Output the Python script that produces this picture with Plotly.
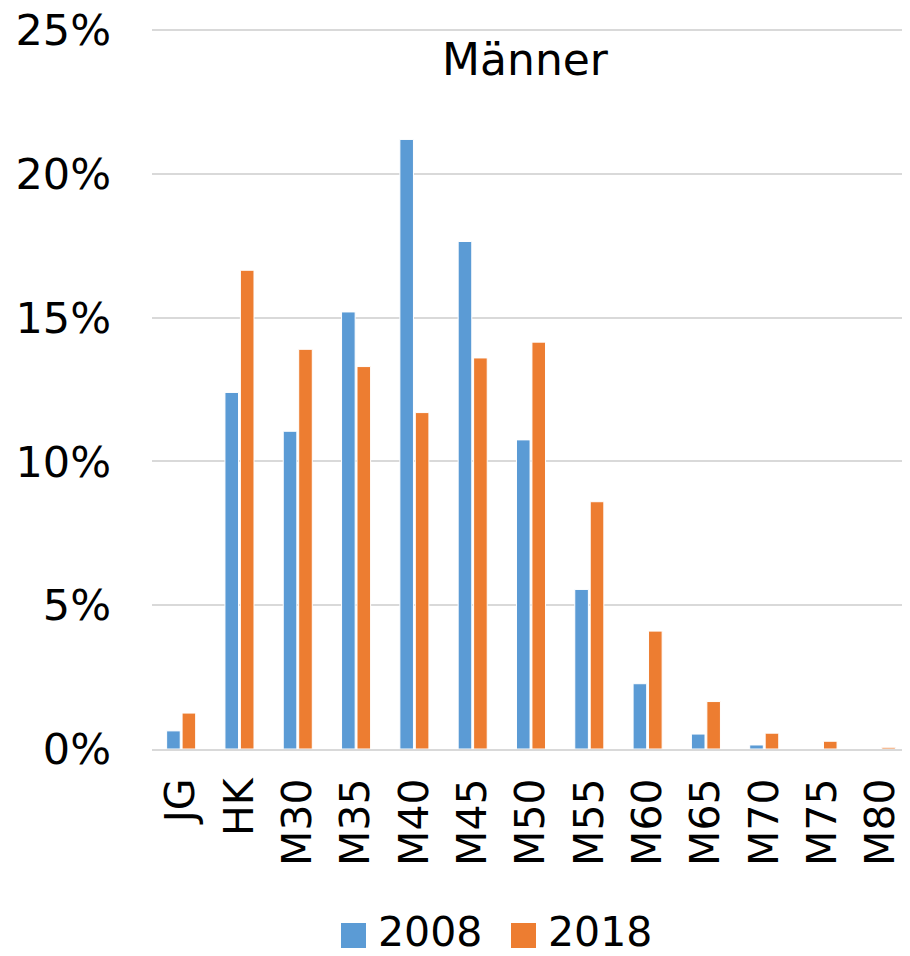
import plotly.graph_objects as go

categories = ["JG", "HK", "M30", "M35", "M40", "M45", "M50", "M55", "M60", "M65", "M70", "M75", "M80"]
values_2008 = [0.63, 12.4, 11.05, 15.2, 21.2, 17.65, 10.75, 5.55, 2.27, 0.52, 0.14, 0.0, 0.0]
values_2018 = [1.25, 16.65, 13.9, 13.3, 11.7, 13.6, 14.15, 8.6, 4.1, 1.65, 0.55, 0.27, 0.06]
series_names = ["2008", "2018"]
series_colors = ["#5B9BD5", "#ED7D31"]
tick_vals = [0, 5, 10, 15, 20, 25]
tick_text = ["0%", "5%", "10%", "15%", "20%", "25%"]

font_family = "DejaVu Sans"

# page body has an 8px margin; figure is sized/positioned to compensate
OFF = 8
W, H = 910 - OFF, 956 - OFF
PL, PT, PR, PB = 152 - OFF, 29 - OFF, 910 - OFF, 749 - OFF  # plot area in figure px
PW, PH = PR - PL, PB - PT


def px_x(x):
    return (x - OFF - PL) / PW


def px_y(y):
    return (PB - (y - OFF)) / PH


fig = go.Figure()
for name, vals, col in zip(series_names, [values_2008, values_2018], series_colors):
    fig.add_trace(go.Bar(name=name, x=categories, y=vals, marker_color=col,
                         marker_line_color="white", marker_line_width=1, showlegend=False))

# custom legend (large square swatches)
legend_pos = [(341, 380), (511, 550)]
for (sx, tx), label, col in zip(legend_pos, series_names, series_colors):
    fig.add_shape(type="rect", xref="paper", yref="paper",
                  x0=px_x(sx), x1=px_x(sx + 25), y0=px_y(948), y1=px_y(923),
                  fillcolor=col, line_width=0)
    fig.add_annotation(xref="paper", yref="paper", x=px_x(tx - 4), y=px_y(932),
                       text=label, showarrow=False, xanchor="left", yanchor="middle",
                       font=dict(size=41, family=font_family, color="black"))

fig.update_layout(
    width=W, height=H,
    paper_bgcolor="white", plot_bgcolor="white",
    margin=dict(l=PL, r=W - PR, t=PT, b=H - PB),
    barmode="group", bargap=0.47, bargroupgap=0.12,
    font=dict(family=font_family, color="black", size=42),
    title=dict(text="Männer", x=(525 - OFF) / W, xanchor="center", y=1 - (60 - OFF) / H,
               yanchor="middle", font=dict(size=44, family=font_family, color="black")),
    yaxis=dict(range=[0, 25.04], tickvals=tick_vals, ticktext=tick_text,
               showgrid=True, gridcolor="#D9D9D9", gridwidth=1.5,
               zeroline=False, showline=False, ticks="", ticklabelstandoff=40,
               ticklabeloverflow="allow",
               automargin=False, tickfont=dict(size=43)),
    xaxis=dict(tickangle=-90, showline=True, linecolor="#D9D9D9", linewidth=2,
               ticks="", ticklabelstandoff=11, automargin=False, tickfont=dict(size=41)),
)

fig.write_html("out.html")
